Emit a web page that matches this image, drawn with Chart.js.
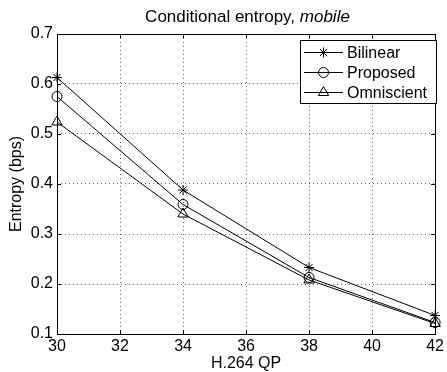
<!DOCTYPE html>
<html><head><meta charset="utf-8">
<script src="https://cdn.jsdelivr.net/npm/chart.js@4/dist/chart.umd.min.js"></script>
<style>
html,body{margin:0;padding:0;background:#fff;}
#wrap{position:relative;width:447px;height:372px;}
#title{position:absolute;left:47px;width:401px;top:7px;text-align:center;font:17px "Liberation Sans",Arial,sans-serif;color:#000;line-height:20px;white-space:nowrap;}
</style></head><body>
<div id="wrap"><canvas id="c" width="447" height="372"></canvas><div id="title">Conditional entropy, <i>mobile</i></div></div>
<script>
const categories = [30, 34, 38, 42];
const bilinear = [0.613, 0.388, 0.233, 0.137];
const proposed = [0.575, 0.359, 0.213, 0.123];
const omniscient = [0.524, 0.340, 0.208, 0.121];
const xTickValues = [30, 32, 34, 36, 38, 40, 42];
const yTickValues = [0.1, 0.2, 0.3, 0.4, 0.5, 0.6, 0.7];
const seriesNames = ['Bilinear', 'Proposed', 'Omniscient'];
const xLabel = 'H.264 QP';
const yLabel = 'Entropy (bps)';

const FONT = '"Liberation Sans", Arial, Helvetica, sans-serif';
Chart.defaults.font.family = FONT;
Chart.defaults.color = '#000';

function pts(vals){ return categories.map((c,i)=>({x:c, y:vals[i]})); }
const styles = [
  {pointStyle:'star', pointRadius:5},
  {pointStyle:'circle', pointRadius:5},
  {pointStyle:'triangle', pointRadius:6}
];
const series = [bilinear, proposed, omniscient];
const datasets = series.map((v,i)=>({
  label: seriesNames[i],
  data: pts(v),
  showLine: true,
  borderColor:'#000',
  borderWidth:1,
  pointStyle: styles[i].pointStyle,
  pointRadius: styles[i].pointRadius,
  pointBorderColor:'#000',
  pointBackgroundColor:'rgba(0,0,0,0)',
  pointBorderWidth:1,
  clip:false,
  tension:0
}));

const framePlugin = {
  id:'frame',
  afterDatasetsDraw(chart){
    const ctx = chart.ctx, a = chart.chartArea;
    const xs = chart.scales.x, ys = chart.scales.y;
    ctx.save();
    ctx.strokeStyle = '#000'; ctx.lineWidth = 1;
    ctx.strokeRect(Math.round(a.left)+0.5, Math.round(a.top)+0.5, Math.round(a.right-a.left), Math.round(a.bottom-a.top));
    const L = 4;
    ctx.beginPath();
    xTickValues.forEach(v=>{
      const px = Math.round(xs.getPixelForValue(v))+0.5;
      ctx.moveTo(px, a.bottom); ctx.lineTo(px, a.bottom-L);
      ctx.moveTo(px, a.top); ctx.lineTo(px, a.top+L);
    });
    yTickValues.forEach(v=>{
      const py = Math.round(ys.getPixelForValue(v))+0.5;
      ctx.moveTo(a.left, py); ctx.lineTo(a.left+L, py);
      ctx.moveTo(a.right, py); ctx.lineTo(a.right-L, py);
    });
    ctx.stroke();
    ctx.restore();
  }
};

const legendPlugin = {
  id:'boxLegend',
  afterDraw(chart){
    const ctx = chart.ctx;
    const x0 = 300, y0 = 40, w = 136, h = 63;
    ctx.save();
    ctx.fillStyle = '#fff'; ctx.fillRect(x0, y0, w, h);
    ctx.strokeStyle = '#000'; ctx.lineWidth = 1;
    ctx.strokeRect(x0+0.5, y0+0.5, w, h);
    chart.data.datasets.forEach((ds,i)=>{
      const y = Math.round(y0 + 12 + i*20) + 0.5;
      ctx.strokeStyle = '#000'; ctx.lineWidth = 1;
      ctx.beginPath(); ctx.moveTo(x0+4, y); ctx.lineTo(x0+43, y); ctx.stroke();
      ctx.fillStyle = 'rgba(0,0,0,0)';
      Chart.helpers.drawPoint(ctx, {pointStyle: ds.pointStyle, radius: ds.pointRadius, borderWidth:1, rotation:0}, x0+23.5, y);
      ctx.fillStyle = '#000';
      ctx.font = '16px ' + FONT;
      ctx.textBaseline = 'middle'; ctx.textAlign = 'left';
      ctx.fillText(ds.label, x0+47, y+1);
    });
    ctx.restore();
  }
};

new Chart(document.getElementById('c'), {
  type:'scatter',
  data:{datasets},
  options:{
    responsive:false,
    devicePixelRatio:1,
    animation:false,
    layout:{padding:{top:34, right:9, left:0, bottom:0}},
    plugins:{legend:{display:false}, tooltip:{enabled:false}, title:{display:false}},
    scales:{
      x:{
        type:'linear', min:30, max:42,
        afterFit(s){ s.height = 38; },
        afterBuildTicks(s){ s.ticks = xTickValues.map(v=>({value:v})); },
        ticks:{font:{size:16}, padding:3, color:'#000', maxRotation:0, autoSkip:false, callback:v=>String(v)},
        grid:{color:'rgba(0,0,0,0.6)', lineWidth:1, drawTicks:false},
        border:{display:false, dash:[1,3]},
        title:{display:true, text:xLabel, font:{size:16}, padding:{top:0, bottom:-1}, color:'#000'}
      },
      y:{
        type:'linear', min:0.1, max:0.7,
        afterFit(s){ s.width = 57; },
        afterBuildTicks(s){ s.ticks = yTickValues.map(v=>({value:v})); },
        ticks:{font:{size:16}, padding:4, color:'#000', autoSkip:false, callback:v=>Number(v).toFixed(1)},
        grid:{color:'rgba(0,0,0,0.6)', lineWidth:1, drawTicks:false},
        border:{display:false, dash:[1,3]},
        title:{display:true, text:yLabel, font:{size:16}, padding:{top:7, bottom:0}, color:'#000'}
      }
    }
  },
  plugins:[framePlugin, legendPlugin]
});
</script>
</body></html>
